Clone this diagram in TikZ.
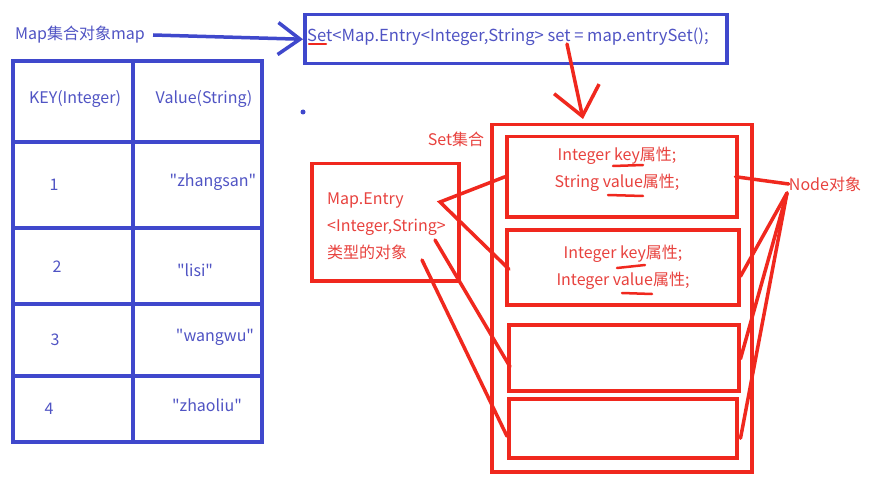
\documentclass[tikz,border=0pt]{standalone}
\usepackage{fontspec}
\setmainfont{Noto Sans CJK SC}[Ligatures=TeXOff]
\usetikzlibrary{arrows.meta}
\definecolor{penblue}{RGB}{63,72,204}
\definecolor{inkblue}{RGB}{80,84,196}
\definecolor{penred}{RGB}{240,40,30}
\definecolor{inkred}{RGB}{232,66,62}
\tikzset{
  bluebox/.style={draw=penblue, line width=3.5pt, anchor=north west, inner sep=0pt},
  redbox/.style={draw=penred, line width=3.5pt, anchor=north west, inner sep=0pt},
  bluetxt/.style={text=inkblue, inner sep=0pt, font=\fontsize{16}{18}\selectfont},
  redtxt/.style={text=inkred, inner sep=0pt, font=\fontsize{16}{27}\selectfont},
  redline/.style={draw=penred, line width=3.5pt, line cap=round},
  underl/.style={draw=penred, line width=2.5pt, line cap=round}
}
\begin{document}
\begin{tikzpicture}[x=1pt, y=-1pt]
  \useasboundingbox[fill=white] (0,0) rectangle (876,484);
  % map table
  \node[bluetxt] (maplbl) at (80,35) {Map集合对象map};
  \draw[penblue, line width=3.5pt] (13,61) rectangle (262,442);
  \draw[penblue, line width=3.5pt] (133,61) -- (133,442);
  \foreach \y in {142,228,304,376}
    \draw[penblue, line width=3.5pt] (13,\y) -- (262,\y);
  \node[bluetxt] (khead) at (75,99) {KEY(Integer)};
  \node[bluetxt] (vhead) at (204,99) {Value(String)};
  \node[bluetxt] (k1) at (54,185) {1};
  \node[bluetxt] (v1) at (213,182) {"zhangsan"};
  \node[bluetxt] (k2) at (57,267) {2};
  \node[bluetxt] (v2) at (195,270) {"lisi"};
  \node[bluetxt] (k3) at (55,340) {3};
  \node[bluetxt] (v3) at (215,337) {"wangwu"};
  \node[bluetxt] (k4) at (49,409) {4};
  \node[bluetxt] (v4) at (207,405) {"zhaoliu"};
  % code line
  \node[bluebox, minimum width=422pt, minimum height=49pt] (code) at (303,13) {};
  \node[bluetxt, anchor=west, font=\fontsize{16.6}{18}\selectfont] (codetxt) at (307,37) {Set<Map.Entry<Integer,String> set = map.entrySet();};
  \draw[underl] (309,44) -- (326,44);
  \draw[penblue, line width=3.5pt, -{Straight Barb[length=22pt, width=32pt]}] (maplbl.east) ++(8,0) -- (code.west);
  \fill[penblue] (303,112) circle (2.5);
  % set
  \node[redbox, minimum width=260pt, minimum height=347pt] (setbox) at (490,123) {};
  \node[redtxt] (setlbl) at (456,139) {Set集合};
  \coordinate (setvar) at (567,44);
  \coordinate (settop) at (583,119);
  \draw[redline, -{Straight Barb[length=28pt, width=46pt]}] (setvar) -- (settop);
  \node[redbox, minimum width=230pt, minimum height=80pt] (box1) at (505,135) {};
  \node[redbox, minimum width=232pt, minimum height=75pt] (box2) at (505,228) {};
  \node[redbox, minimum width=230pt, minimum height=66pt] (box3) at (507,323) {};
  \node[redbox, minimum width=228pt, minimum height=59pt] (box4) at (507,397) {};
  \node[redtxt, align=center] (box1txt) at (617,169) {Integer key属性;\\String value属性;};
  \node[redtxt, align=center] (box2txt) at (623,267) {Integer key属性;\\Integer value属性;};
  \draw[underl] (613,166) -- (643,165);
  \draw[underl] (608,195) -- (643,196);
  \draw[underl] (617,268) -- (645,265);
  \draw[underl] (622,293) -- (652,294);
  % entry
  \node[redbox, minimum width=147pt, minimum height=117pt] (entry) at (310,162) {};
  \node[redtxt, align=left, anchor=west] (entrytxt) at (327,226) {Map.Entry\\<Integer,String>\\类型的对象};
  \coordinate (e1) at (440,202);
  \coordinate (e2) at (435,240);
  \coordinate (e3) at (422,260);
  \draw[redline] (box1.west) -- (e1) -- ([xshift=4pt, yshift=-2pt]box2.west);
  \draw[redline] (e2) -- ([xshift=3pt, yshift=-9pt]box3.west);
  \draw[redline] (e3) -- ([yshift=-8pt]box4.west);
  % node
  \node[redtxt] (nodelbl) at (825,184) {Node对象};
  \coordinate (n0) at (787,193);
  \draw[redline] (nodelbl.west) -- ([xshift=-3pt]box1.east);
  \draw[redline] (n0) -- ([yshift=-9pt]box2.east);
  \draw[redline] (n0) -- ([yshift=-1pt]box3.east);
  \draw[redline] (n0) -- ([xshift=2pt, yshift=-10pt]box4.east);
\end{tikzpicture}
\end{document}
